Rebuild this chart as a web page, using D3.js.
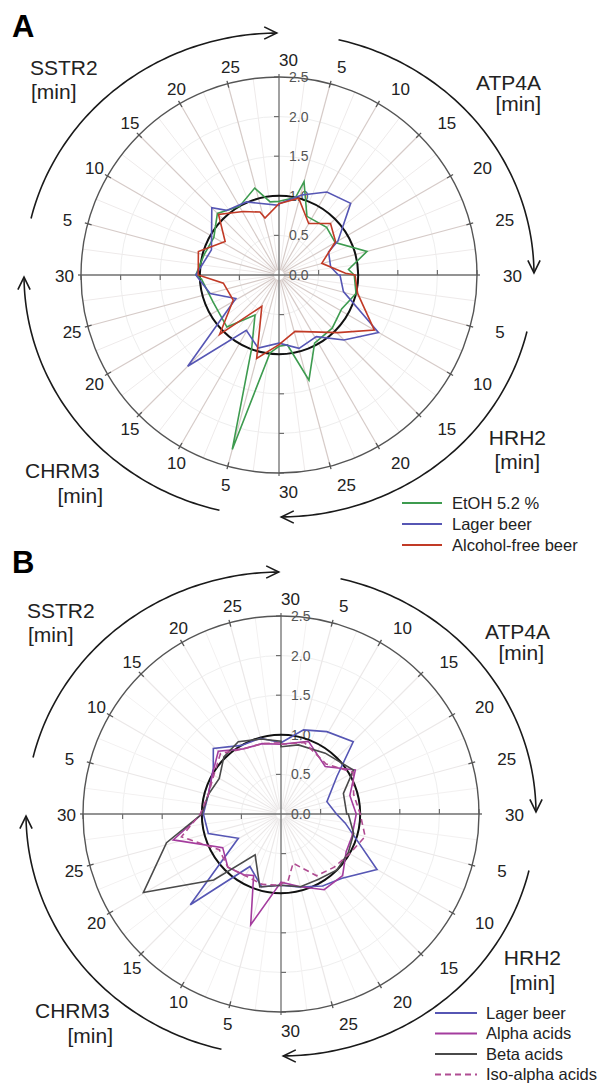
<!DOCTYPE html>
<html>
<head>
<meta charset="utf-8">
<script src="https://cdn.jsdelivr.net/npm/d3@7"></script>
<style>
  body { margin: 0; background: #fff; }
  text { font-family: "Liberation Sans", Arial, sans-serif; }
</style>
</head>
<body>
<div id="chart"></div>
<script>
// quadrant order, clockwise from 12 o'clock
const genes = ['ATP4A', 'HRH2', 'CHRM3', 'SSTR2'];
const minuteTicks = [5, 10, 15, 20, 25];
const radialTicks = [0, 0.5, 1, 1.5, 2, 2.5];

// [minute, relative value] per quadrant: ATP4A, HRH2, CHRM3, SSTR2
// Panel A
const etohA = [
  [[0, 0.93], [4, 1.0], [5, 1.22], [8.5, 0.82], [15, 0.85], [20, 0.82], [25, 1.15], [28.5, 0.88], [30, 0.95]],
  [[0, 0.95], [4.5, 1.0], [9.5, 0.9], [15, 0.95], [20.8, 0.97], [24.7, 1.38], [27.7, 0.89], [30, 0.9]],
  [[0, 0.9], [2.2, 0.99], [5, 2.28], [6.8, 0.99], [10.3, 0.59], [15, 0.93], [22.6, 0.9], [29, 0.98], [30, 1.05]],
  [[0, 1.05], [5, 0.98], [10, 0.95], [15, 1.1], [20, 1.0], [24.8, 1.14], [27.7, 0.93], [30, 0.93]]
];
const lagerA = [
  [[0, 0.9], [5.3, 1.05], [10, 1.21], [15, 1.28], [20, 0.86], [21.7, 0.69], [27, 0.66], [30, 0.75]],
  [[0, 0.77], [4.8, 0.84], [10, 1.45], [15, 1.16], [19.6, 0.91], [24.9, 0.96], [30, 0.86]],
  [[0, 0.86], [5.3, 0.96], [10.2, 0.81], [15, 1.63], [20.5, 0.62], [25, 0.9], [30, 1.05]],
  [[0, 1.05], [6.8, 0.91], [15, 1.2], [17, 1.05], [22, 1.01], [30, 0.88]]
];
const alcFreeA = [
  [[0, 0.9], [4.8, 1.0], [10, 0.75], [15, 0.92], [19.8, 0.83], [24.9, 0.56], [29.5, 0.84]],
  [[0, 0.96], [4.4, 1.02], [10, 1.39], [14.8, 1.04], [24.7, 0.74], [30, 0.88]],
  [[0, 0.88], [5, 1.09], [9.6, 0.45], [15, 1.06], [20.4, 0.66], [27.2, 0.71], [30, 1.02]],
  [[0, 1.02], [5.4, 1.06], [10.6, 0.8], [15, 1.08], [20.2, 0.92], [24.4, 0.83], [25.4, 0.74], [30, 0.9]]
];

// Panel B
const lagerB = [
  [[0, 0.9], [5, 1.1], [9.7, 1.19], [15, 1.29], [18.7, 0.85], [25, 0.6], [30, 0.7]],
  [[2.7, 0.82], [10, 1.4], [15.5, 1.12], [20, 1.05], [25.3, 0.95], [30, 0.9]],
  [[0, 0.9], [5, 0.95], [10.2, 0.77], [15, 1.62], [20.1, 0.62], [25, 0.95], [30, 0.98]],
  [[0, 0.98], [5, 0.95], [11.3, 1.03], [14.7, 1.19], [20, 1.0], [25, 0.99], [30, 0.9]]
];
const alphaB = [
  [[0, 0.88], [6.9, 0.98], [14.3, 0.82], [19.8, 1.09], [25, 0.9], [30, 0.95]],
  [[0, 0.95], [5.9, 0.94], [10, 0.95], [15, 1.1], [20.1, 1.1], [25, 0.95], [30, 0.86]],
  [[0, 0.86], [5.1, 1.45], [8, 0.85], [10.5, 0.9], [15, 0.95], [20, 0.85], [25.5, 1.4], [30, 1.0]],
  [[0, 1.0], [5, 0.95], [10, 1.0], [15, 1.12], [20, 0.95], [25, 0.92], [30, 0.88]]
];
const betaB = [
  [[0, 0.85], [4.7, 0.9], [12, 0.95], [19.6, 1.07], [23.9, 0.83], [30, 0.83]],
  [[0, 0.85], [5, 0.95], [10, 0.98], [15, 1.0], [20, 0.95], [25, 0.95], [30, 0.9]],
  [[0, 0.9], [5.4, 0.96], [10.8, 0.61], [15.2, 1.19], [20.1, 2.0], [25.3, 1.49], [30, 1.0]],
  [[0, 1.0], [5, 0.95], [10, 0.9], [15, 1.02], [19.8, 1.06], [25, 0.98], [30, 0.92]]
];
const isoB = [
  [[0, 0.88], [6, 0.95], [14, 0.85], [20, 1.05], [25, 0.95], [30, 1.0]],
  [[0, 1.0], [5, 1.1], [10, 1.0], [15, 0.95], [20, 0.9], [25.4, 0.64], [28, 0.85], [30, 0.88]],
  [[0, 0.9], [5, 0.92], [10, 0.9], [15, 0.95], [20, 0.9], [25.7, 1.29], [30, 1.02]],
  [[0, 1.02], [5, 0.95], [10, 0.98], [15, 1.08], [20, 0.95], [25, 0.92], [30, 0.9]]
];

const legendA = ['EtOH 5.2 %', 'Lager beer', 'Alcohol-free beer'];
const legendB = ['Lager beer', 'Alpha acids', 'Beta acids', 'Iso-alpha acids'];

const width = 607, height = 1086;
const R = 198; // outer radius (2.5)

const svg = d3.select('#chart').append('svg')
  .attr('width', width)
  .attr('height', height);

const panels = [
  {
    letter: 'A', letterY: 37, cx: 279, cy: 275,
    spoke: '#d6cbc8', minorSpoke: '#eeeaea', grid: '#eeeeee',
    series: [
      { name: legendA[0], data: etohA, color: '#3d9b4f' },
      { name: legendA[1], data: lagerA, color: '#5656b4' },
      { name: legendA[2], data: alcFreeA, color: '#c13a26' }
    ],
    legend: { x1: 402, x2: 442, tx: 452, y: 503, step: 21 },
    geneLabels: [
      { x: 541, y: 90, anchor: 'end', sub: 541, subY: 111 },
      { x: 546, y: 445, anchor: 'end', sub: 540, subY: 469 },
      { x: 25, y: 478, anchor: 'start', sub: 103, subY: 503, subAnchor: 'end' },
      { x: 30, y: 75, anchor: 'start', sub: 31, subY: 99, subAnchor: 'start' }
    ]
  },
  {
    letter: 'B', letterY: 573, cx: 281, cy: 814,
    spoke: '#ebe8e8', minorSpoke: '#f3f1f1', grid: '#efefef',
    series: [
      { name: legendB[0], data: lagerB, color: '#5656b4' },
      { name: legendB[1], data: alphaB, color: '#a43c9e' },
      { name: legendB[2], data: betaB, color: '#4a4a4a' },
      { name: legendB[3], data: isoB, color: '#b04c92', dash: '6,4' }
    ],
    legend: { x1: 435, x2: 477, tx: 486, y: 1013, step: 20.5 },
    geneLabels: [
      { x: 550, y: 639, anchor: 'end', sub: 544, subY: 660 },
      { x: 561, y: 965, anchor: 'end', sub: 555, subY: 990 },
      { x: 35, y: 1018, anchor: 'start', sub: 113, subY: 1043, subAnchor: 'end' },
      { x: 27, y: 618, anchor: 'start', sub: 28, subY: 642, subAnchor: 'start' }
    ]
  }
];

const rad = deg => deg * Math.PI / 180;

function drawPanel(p) {
  const r = d3.scaleLinear().domain([0, 2.5]).range([0, R]);
  // minutes in a quadrant -> degrees clockwise from top
  const quad = q => d3.scaleLinear().domain([0, 30]).range([q * 90, q * 90 + 90]);

  svg.append('text')
    .attr('x', 12).attr('y', p.letterY)
    .attr('font-size', 31).attr('font-weight', 'bold')
    .text(p.letter);

  const g = svg.append('g').attr('transform', `translate(${p.cx},${p.cy})`);

  // faint rings
  g.append('g').selectAll('circle')
    .data(radialTicks.filter(d => d > 0 && d < 2.5))
    .enter().append('circle')
    .attr('r', d => r(d))
    .attr('fill', 'none')
    .attr('stroke', p.grid)
    .attr('stroke-width', 1);

  // spokes
  const minor = [], major = [];
  genes.forEach((gn, q) => {
    d3.range(2.5, 30, 2.5).forEach(t => {
      (t % 5 === 0 ? major : minor).push(quad(q)(t));
    });
  });
  g.append('g').selectAll('line').data(minor).enter().append('line')
    .attr('x1', d => 5 * Math.sin(rad(d))).attr('y1', d => -5 * Math.cos(rad(d)))
    .attr('x2', d => r(2.5) * Math.sin(rad(d))).attr('y2', d => -r(2.5) * Math.cos(rad(d)))
    .attr('stroke', p.minorSpoke).attr('stroke-width', 1);
  g.append('g').selectAll('line').data(major).enter().append('line')
    .attr('x1', d => 5 * Math.sin(rad(d))).attr('y1', d => -5 * Math.cos(rad(d)))
    .attr('x2', d => r(2.5) * Math.sin(rad(d))).attr('y2', d => -r(2.5) * Math.cos(rad(d)))
    .attr('stroke', p.spoke).attr('stroke-width', 1.2);

  // axes through the centre
  const dirs = [[0, -1], [1, 0], [0, 1], [-1, 0]];
  dirs.forEach(([ux, uy]) => {
    g.append('line')
      .attr('x1', 0).attr('y1', 0)
      .attr('x2', ux * (R + 3)).attr('y2', uy * (R + 3))
      .attr('stroke', '#6f6f6f').attr('stroke-width', 1.3);
    g.append('g').selectAll('line')
      .data(radialTicks.filter(d => d > 0))
      .enter().append('line')
      .attr('x1', d => ux * r(d)).attr('y1', d => uy * r(d))
      .attr('x2', d => ux * r(d) + uy * 5).attr('y2', d => uy * r(d) - ux * 5)
      .attr('stroke', '#6f6f6f').attr('stroke-width', 1.2);
  });

  // outer circle
  g.append('circle').attr('r', r(2.5))
    .attr('fill', 'none').attr('stroke', '#555').attr('stroke-width', 1.4);

  // minute ticks on the outer circle
  const tickAngles = [];
  genes.forEach((gn, q) => minuteTicks.forEach(t => tickAngles.push(quad(q)(t))));
  g.append('g').selectAll('line').data(tickAngles).enter().append('line')
    .attr('x1', d => (R - 4) * Math.sin(rad(d))).attr('y1', d => -(R - 4) * Math.cos(rad(d)))
    .attr('x2', d => (R + 3) * Math.sin(rad(d))).attr('y2', d => -(R + 3) * Math.cos(rad(d)))
    .attr('stroke', '#555').attr('stroke-width', 1.3);

  // minute labels
  const labels = [];
  genes.forEach((gn, q) => {
    labels.push({ a: quad(q)(0), t: 30 });
    minuteTicks.forEach(t => labels.push({ a: quad(q)(t), t: t }));
  });
  g.append('g').selectAll('text').data(labels).enter().append('text')
    .attr('x', d => 224 * Math.sin(rad(d.a)))
    .attr('y', d => -216 * Math.cos(rad(d.a)) + 1)
    .attr('dy', '0.35em')
    .attr('font-size', 17)
    .attr('fill', '#222')
    .text(d => d.t);

  // radial value labels
  g.append('g').selectAll('text').data(radialTicks).enter().append('text')
    .attr('x', 10).attr('y', d => -r(d))
    .attr('dy', '0.35em')
    .attr('font-size', 14)
    .attr('fill', '#555')
    .text(d => d3.format('.1f')(d));

  // reference circle at 1.0
  g.append('circle').attr('r', r(1))
    .attr('fill', 'none').attr('stroke', '#111').attr('stroke-width', 2);

  // series
  const line = d3.lineRadial()
    .angle(d => rad(d.a))
    .radius(d => r(d.v))
    .curve(d3.curveLinearClosed);
  p.series.forEach(s => {
    const pts = [];
    s.data.forEach((quadrant, q) => {
      quadrant.forEach(([t, v]) => pts.push({ a: quad(q)(t), v: v }));
    });
    g.append('path')
      .attr('d', line(pts))
      .attr('fill', 'none')
      .attr('stroke', s.color)
      .attr('stroke-width', 1.6)
      .attr('stroke-dasharray', s.dash || null)
      .attr('stroke-linejoin', 'miter');
  });

  // direction arcs with arrow heads
  const rx = 255, ry = 242;
  genes.forEach((gn, q) => {
    const a0 = q * 90 + 13.5, a1 = q * 90 + 90;
    const pts = d3.range(a0, a1 + 0.01, 1).map(a => [rx * Math.sin(rad(a)), -ry * Math.cos(rad(a))]);
    g.append('path')
      .attr('d', d3.line()(pts))
      .attr('fill', 'none').attr('stroke', '#1a1a1a').attr('stroke-width', 1.6);
    const e = pts[pts.length - 1];
    let dx = rx * Math.cos(rad(a1)), dy = ry * Math.sin(rad(a1));
    const len = Math.hypot(dx, dy);
    dx /= len; dy /= len;
    const head = [-26, 26].map(w => {
      const c = Math.cos(rad(w)), s = Math.sin(rad(w));
      const bx = -(dx * c - dy * s), by = -(dx * s + dy * c);
      return [e[0] + 14 * bx, e[1] + 14 * by];
    });
    g.append('path')
      .attr('d', d3.line()([head[0], e, head[1]]))
      .attr('fill', 'none').attr('stroke', '#1a1a1a').attr('stroke-width', 1.6);
  });

  // gene labels
  p.geneLabels.forEach((lab, q) => {
    svg.append('text')
      .attr('x', lab.x).attr('y', lab.y)
      .attr('text-anchor', lab.anchor)
      .attr('font-size', 21).attr('fill', '#222')
      .text(genes[q]);
    svg.append('text')
      .attr('x', lab.sub).attr('y', lab.subY)
      .attr('text-anchor', lab.subAnchor || 'end')
      .attr('font-size', 21).attr('fill', '#222')
      .text('[min]');
  });

  // legend
  const lg = svg.append('g');
  p.series.forEach((s, i) => {
    const y = p.legend.y + i * p.legend.step;
    lg.append('line')
      .attr('x1', p.legend.x1).attr('x2', p.legend.x2)
      .attr('y1', y).attr('y2', y)
      .attr('stroke', s.color).attr('stroke-width', 1.8)
      .attr('stroke-dasharray', s.dash || null);
    lg.append('text')
      .attr('x', p.legend.tx).attr('y', y)
      .attr('dy', '0.35em')
      .attr('font-size', 16.5).attr('fill', '#222')
      .text(s.name);
  });
}

panels.forEach(drawPanel);
</script>
</body>
</html>
